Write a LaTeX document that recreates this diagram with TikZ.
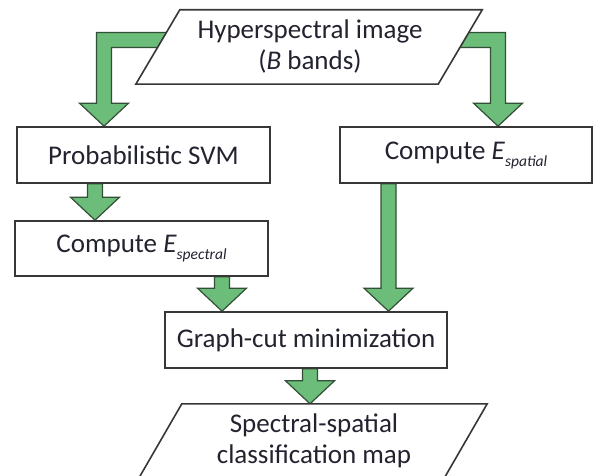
\documentclass[tikz,border=0pt]{standalone}
\usepackage{fontspec}
\setmainfont{Carlito}
\usetikzlibrary{calc,backgrounds}
\definecolor{arrowgreen}{RGB}{108,188,122}
\definecolor{arrowline}{RGB}{50,80,55}
\definecolor{boxline}{RGB}{55,55,55}
\definecolor{txt}{RGB}{35,35,48}
\newcommand{\Esub}[1]{\textit{E}\raisebox{-7bp}{\fontsize{15.5bp}{15.5bp}\selectfont\itshape #1}}
\tikzset{
  stepbox/.style={draw=boxline, line width=1.6bp, fill=white, inner sep=0pt,
    text=txt, font=\fontsize{27bp}{31bp}\selectfont},
  labeltext/.style={text=txt, font=\fontsize{27bp}{31bp}\selectfont, align=center, inner sep=0pt},
  garrow/.style={fill=arrowgreen, draw=arrowline, line width=1.2bp, line join=miter},
  para/.style={draw=boxline, line width=1.6bp, fill=white, line join=miter}
}
\newcommand{\vblock}[2]{%
  \filldraw[garrow] let \p1=(#1), \p2=(#2) in
    (\x2-7.5bp,\y1) -- (\x2-7.5bp,\y2+23bp) -- (\x2-24.5bp,\y2+23bp) -- (\x2,\y2)
    -- (\x2+24.5bp,\y2+23bp) -- (\x2+7.5bp,\y2+23bp) -- (\x2+7.5bp,\y1) -- cycle;}
\begin{document}
\begin{tikzpicture}[x=1bp,y=-1bp]
\useasboundingbox (0,0) rectangle (594,476);
% boxes
\node[stepbox, minimum width=253bp, minimum height=56bp] (svm) at (143.5,155) {Probabilistic SVM};
\node[stepbox, minimum width=253bp, minimum height=55bp] (spec) at (141.5,248.5) {Compute \Esub{spectral}};
\node[stepbox, minimum width=252bp, minimum height=56bp] (spat) at (466,155) {Compute \Esub{spatial}};
\node[stepbox, minimum width=282bp, minimum height=56bp] (gc) at (306,340) {Graph-cut minimization};
\node[labeltext, minimum width=302bp, minimum height=74bp] (hsi) at (310,47) {Hyperspectral image\\(\textit{B} bands)};
\node[labeltext, minimum width=305bp, minimum height=74bp] (map) at (314,441) {Spectral-spatial\\classification map};
% helper coordinates
\coordinate (tl) at (172,40);
\coordinate (tr) at (452,40);
\coordinate (lx) at (104,0);
\coordinate (rx) at (498,0);
\coordinate (ax) at (95,0);
\coordinate (bx) at (222,0);
\coordinate (cx) at (388.5,0);
\coordinate (dx) at (310,0);
\begin{pgfonlayer}{background}
  % L-shaped arrows from the input
  \filldraw[garrow] let \p1=(tl), \p2=(svm.north -| lx) in
    (\x1,\y1+7.5bp) -- (\x2-7.5bp,\y1+7.5bp) -- (\x2-7.5bp,\y2+23bp) -- (\x2-24.5bp,\y2+23bp)
    -- (\x2,\y2) -- (\x2+24.5bp,\y2+23bp) -- (\x2+7.5bp,\y2+23bp) -- (\x2+7.5bp,\y1-7.5bp)
    -- (\x1,\y1-7.5bp) -- cycle;
  \filldraw[garrow] let \p1=(tr), \p2=(spat.north -| rx) in
    (\x1,\y1+7.5bp) -- (\x2+7.5bp,\y1+7.5bp) -- (\x2+7.5bp,\y2+23bp) -- (\x2+24.5bp,\y2+23bp)
    -- (\x2,\y2) -- (\x2-24.5bp,\y2+23bp) -- (\x2-7.5bp,\y2+23bp) -- (\x2-7.5bp,\y1-7.5bp)
    -- (\x1,\y1-7.5bp) -- cycle;
  % straight arrows
  \vblock{svm.south -| ax}{spec.north -| ax}
  \vblock{spec.south -| bx}{gc.north -| bx}
  \vblock{spat.south -| cx}{gc.north -| cx}
  \vblock{gc.south -| dx}{map.north -| dx}
  % parallelograms
  \draw[para] ([xshift=21bp]hsi.north west) -- ([xshift=21bp]hsi.north east)
    -- ([xshift=-23bp]hsi.south east) -- ([xshift=-23bp]hsi.south west) -- cycle;
  \draw[para] ([xshift=20.5bp]map.north west) -- ([xshift=20.5bp]map.north east)
    -- ([xshift=-22.5bp]map.south east) -- ([xshift=-22.5bp]map.south west) -- cycle;
\end{pgfonlayer}
\end{tikzpicture}
\end{document}
